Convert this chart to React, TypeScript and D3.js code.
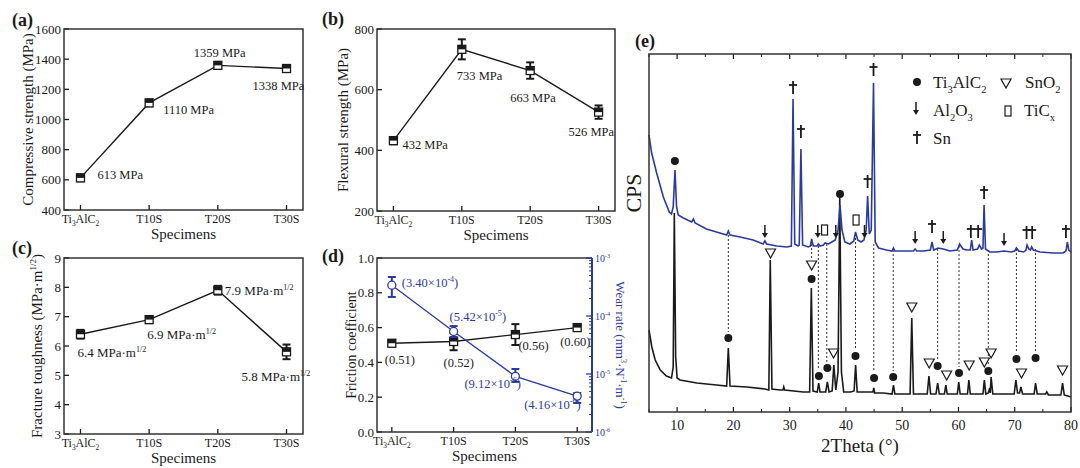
import React from "react";
import * as d3 from "d3";

const FONT = "'Liberation Serif','Times New Roman',Times,serif";
const BLUE = "#2c3a9e";
const INK = "#1a1a1a";

// ---------------- data ----------------
const specimens = ["Ti3AlC2", "T10S", "T20S", "T30S"];

const compressiveTicks = [400, 600, 800, 1000, 1200, 1400, 1600];
const compressive = [613, 1110, 1359, 1338];
const compressiveErr = [22, 22, 20, 20];
const compressiveLabels = ["613 MPa", "1110 MPa", "1359 MPa", "1338 MPa"];

const flexuralTicks = [200, 400, 600, 800];
const flexural = [432, 733, 663, 526];
const flexuralErr = [12, 33, 27, 22];
const flexuralLabels = ["432 MPa", "733 MPa", "663 MPa", "526 MPa"];

const toughnessTicks = [3, 4, 5, 6, 7, 8, 9];
const toughness = [6.4, 6.9, 7.9, 5.8];
const toughnessErr = [0.15, 0.12, 0.15, 0.25];
const toughnessLabels = ["6.4", "6.9", "7.9", "5.8"];

const frictionTicks = [0, 0.2, 0.4, 0.6, 0.8, 1.0];
const friction = [0.51, 0.52, 0.56, 0.6];
const frictionErr = [0.015, 0.05, 0.06, 0.015];
const frictionLabels = ["(0.51)", "(0.52)", "(0.56)", "(0.60)"];

const wearDecades = [-6, -5, -4, -3];
const wear = [3.4e-4, 5.42e-5, 9.12e-6, 4.16e-6];
const wearLow = [2.13e-4, 4.35e-5, 7.3e-6, 3.16e-6];
const wearHigh = [4.7e-4, 6.7e-5, 1.22e-5, 4.7e-6];
const wearMantissa = ["3.40", "5.42", "9.12", "4.16"];
const wearExp = ["-4", "-5", "-6", "-6"];

const xrdTicks = [10, 20, 30, 40, 50, 60, 70, 80];
const xrdMinorTicks = [5, 15, 25, 35, 45, 55, 65, 75];

const xrdBlue: [number, number][] = [
  [5.0, 277], [5.47, 259], [6.36, 239], [7.55, 215], [8.6, 200], [9.0, 198], [9.3, 205], [9.62, 242], [9.9, 205],
  [10.2, 197], [11.1, 194], [12.6, 190], [12.9, 193], [13.2, 189], [15.2, 183], [17.6, 179], [18.8, 177], [19.1, 181],
  [19.4, 177], [21.2, 175], [23.5, 172], [25.3, 168], [25.6, 171], [25.9, 168], [27.7, 166], [29.5, 165], [30.3, 166],
  [30.6, 313], [30.9, 168], [31.5, 166], [31.7, 167], [32.0, 263], [32.3, 167], [33.3, 165], [33.7, 166], [33.9, 173],
  [34.2, 166], [34.9, 166], [35.1, 168], [35.4, 166], [36.0, 167], [36.3, 169], [36.9, 168], [37.5, 170], [38.1, 172],
  [38.6, 182], [38.95, 207], [39.3, 182], [39.8, 170], [40.7, 168], [41.4, 171], [41.7, 180], [42.1, 172], [42.7, 170],
  [43.2, 172], [43.6, 182], [43.85, 216], [44.15, 178], [44.5, 182], [44.9, 329], [45.2, 170], [45.8, 164], [47.2, 162],
  [48.2, 161], [48.45, 164], [48.7, 161], [50.2, 161], [52.0, 161], [52.3, 163], [52.6, 161], [53.8, 161], [55.0, 162],
  [55.3, 170], [55.6, 162], [56.4, 164], [57.3, 163], [58.5, 161], [59.8, 162], [60.2, 168], [60.8, 163], [61.5, 162],
  [62.1, 162], [62.35, 172], [62.6, 162], [63.4, 163], [63.7, 167], [64.1, 163], [64.35, 164], [64.55, 207], [64.8, 163],
  [65.6, 160], [66.8, 160], [68.1, 161], [69.4, 160], [70.0, 161], [70.3, 164], [70.7, 161], [71.6, 160], [72.0, 162],
  [72.2, 167], [72.5, 163], [72.8, 162], [73.0, 165], [73.3, 162], [74.5, 160], [76.9, 159], [78.6, 159], [79.1, 161],
  [79.35, 170], [79.6, 162], [80, 160],
];

const xrdBlack: [number, number][] = [
  [5.0, 82], [5.5, 65], [6.1, 52], [7.0, 42], [8.1, 36], [9.0, 34], [9.3, 45], [9.5, 199], [9.74, 55], [10.0, 34],
  [10.5, 32], [13.5, 29], [17.0, 27], [18.8, 26], [19.1, 64], [19.4, 26], [22.4, 25], [25.6, 23], [26.3, 22],
  [26.55, 152], [26.85, 23], [28.3, 22], [28.8, 22], [28.95, 25], [29.1, 22], [32.4, 20], [33.55, 20], [33.85, 124],
  [34.15, 21], [34.9, 20], [35.15, 29], [35.4, 20], [36.4, 20], [36.7, 30], [37.0, 20], [37.55, 21], [37.85, 47],
  [38.2, 22], [38.6, 40], [38.9, 215], [39.2, 40], [39.6, 20], [40.8, 20], [41.45, 21], [41.72, 47], [42.0, 20],
  [43.1, 20], [44.8, 20], [44.95, 24], [45.1, 19], [46.6, 19], [48.2, 18], [48.45, 27], [48.7, 18], [51.4, 18],
  [51.7, 94], [52.0, 18], [54.45, 18], [54.75, 36], [55.05, 18], [56.0, 18], [56.3, 29], [56.6, 18], [57.5, 18],
  [57.75, 27], [58.0, 18], [59.8, 18], [60.05, 30], [60.3, 18], [61.6, 18], [61.85, 32], [62.1, 18], [64.35, 18],
  [64.6, 32], [64.85, 18], [65.3, 19], [65.55, 24], [65.65, 19], [65.8, 35], [66.1, 18], [69.9, 18], [70.2, 32],
  [70.5, 19], [70.85, 19], [71.1, 25], [71.4, 18], [73.45, 18], [73.7, 29], [74.0, 18], [75.5, 18], [75.7, 20],
  [76.0, 17], [78.2, 17], [78.5, 29], [78.8, 17], [80, 15],
];

const blueTi3AlC2: [number, number][] = [[9.6, 251], [38.95, 218]];
const blueSn: [number, number][] = [
  [30.6, 324], [32.0, 280], [43.85, 230], [44.9, 342], [64.55, 219], [55.3, 185],
  [62.2, 180], [63.5, 180], [72.1, 179], [73.1, 179], [79.1, 180],
];
const blueAl2O3: [number, number][] = [
  [25.6, 180], [35.0, 180], [38.2, 180], [43.3, 180], [52.3, 174], [57.3, 174], [68.1, 172],
];
const blueTiCx: [number, number][] = [[36.2, 182], [41.8, 192]];
const blackTi3AlC2: [number, number][] = [
  [19.1, 74], [33.9, 133], [35.2, 36], [36.7, 44], [41.7, 56], [45.0, 34], [48.4, 35],
  [56.3, 46], [60.1, 39], [65.3, 41], [70.3, 53], [73.7, 54],
];
const blackSnO2: [number, number][] = [
  [26.6, 159], [33.9, 147], [37.8, 59], [51.7, 105], [54.8, 49], [57.9, 37], [61.9, 47],
  [64.6, 50], [65.8, 59], [71.2, 39], [78.5, 42],
];
// [2theta, top intensity, bottom intensity]
const xrdGuides: [number, number, number][] = [
  [19.1, 177, 80], [33.9, 172, 153], [35.1, 166, 42], [36.6, 168, 50], [41.7, 178, 62],
  [44.95, 168, 40], [48.4, 162, 41], [56.3, 163, 52], [60.1, 166, 45], [65.3, 162, 47],
  [70.3, 163, 59], [73.7, 163, 60],
];

// ---------------- helpers ----------------
function Chem({ text, x, y, size, anchor = "start", fill = INK }: any) {
  const toks = text.split(/(_.)/).filter((t: string) => t.length > 0);
  let inSub = false;
  const shift = size * 0.28;
  const kids: any[] = [];
  toks.forEach((t: string, i: number) => {
    if (t.startsWith("_")) {
      kids.push(
        <tspan key={i} fontSize={size * 0.62} dy={inSub ? 0 : shift}>
          {t.slice(1)}
        </tspan>
      );
      inSub = true;
    } else {
      kids.push(
        <tspan key={i} dy={inSub ? -shift : 0}>
          {t}
        </tspan>
      );
      inSub = false;
    }
  });
  return (
    <text x={x} y={y} fontSize={size} textAnchor={anchor} fill={fill}>
      {kids}
    </text>
  );
}

function Sup({ base, exp, x, y, size, anchor = "start", fill = INK, tail = "" }: any) {
  const s = size * 0.62;
  const up = size * 0.38;
  return (
    <text x={x} y={y} fontSize={size} textAnchor={anchor} fill={fill}>
      <tspan>{base}</tspan>
      <tspan fontSize={s} dy={-up}>
        {exp}
      </tspan>
      <tspan dy={up}>{tail}</tspan>
    </text>
  );
}

function specimenName(s: string) {
  return s === "Ti3AlC2" ? "Ti_3AlC_2" : s;
}

function HalfSquare({ x, y, s = 8 }: any) {
  return (
    <g>
      <rect x={x - s / 2} y={y - s / 2} width={s} height={s} fill="#fff" stroke={INK} strokeWidth={1.3} />
      <rect x={x - s / 2} y={y - s / 2} width={s} height={s / 2} fill={INK} />
    </g>
  );
}

function ErrBar({ x, y1, y2, color = INK, w = 8 }: any) {
  return (
    <g stroke={color} strokeWidth={2}>
      <line x1={x} x2={x} y1={y1} y2={y2} />
      <line x1={x - w / 2} x2={x + w / 2} y1={y1} y2={y1} />
      <line x1={x - w / 2} x2={x + w / 2} y1={y2} y2={y2} />
    </g>
  );
}

function CatAxes({ x, y, left, right, top, bottom, ticks, fmt, ylabel, ylabelX, frameRight = true }: any) {
  const cx = (left + right) / 2;
  return (
    <g>
      {ticks.map((t: number) => (
        <g key={t}>
          <line x1={left} x2={left + 5} y1={y(t)} y2={y(t)} stroke={INK} strokeWidth={1.3} />
          <text x={left - 3} y={y(t)} dy="0.35em" textAnchor="end" fontSize={13} fill={INK}>
            {fmt(t)}
          </text>
        </g>
      ))}
      {specimens.map((s) => (
        <g key={s}>
          <line x1={x(s)} x2={x(s)} y1={bottom} y2={bottom - 5} stroke={INK} strokeWidth={1.3} />
          <Chem text={specimenName(s)} x={x(s)} y={bottom + 13} size={12} anchor="middle" />
        </g>
      ))}
      <path
        d={`M${right},${top} L${left},${top} L${left},${bottom} L${right},${bottom}` + (frameRight ? ` Z` : "")}
        fill="none"
        stroke="#333"
        strokeWidth={1.5}
      />
      <text x={cx} y={bottom + 29} textAnchor="middle" fontSize={15} fill={INK}>
        Specimens
      </text>
      <g transform={`translate(${ylabelX},${(top + bottom) / 2}) rotate(-90)`}>{ylabel}</g>
    </g>
  );
}

function Dagger({ x, y }: any) {
  return (
    <g stroke={INK} strokeWidth={1.8}>
      <line x1={x} x2={x} y1={y - 7} y2={y + 6} />
      <line x1={x - 4} x2={x + 4} y1={y - 3} y2={y - 3} />
    </g>
  );
}
function ArrowDown({ x, y }: any) {
  return (
    <g>
      <line x1={x} x2={x} y1={y - 7} y2={y + 2} stroke={INK} strokeWidth={1.5} />
      <path d={`M${x - 3},${y + 1} L${x + 3},${y + 1} L${x},${y + 6} Z`} fill={INK} />
    </g>
  );
}
function TriDown({ x, y }: any) {
  return (
    <path
      d={`M${x - 5},${y - 4} L${x + 5},${y - 4} L${x},${y + 5} Z`}
      fill="#fff"
      stroke={INK}
      strokeWidth={1.2}
    />
  );
}
function Dot({ x, y }: any) {
  return <circle cx={x} cy={y} r={4} fill={INK} />;
}
function Box({ x, y }: any) {
  return <rect x={x - 3} y={y - 5} width={6} height={10} fill="#fff" stroke={INK} strokeWidth={1.2} />;
}

// ---------------- panels ----------------
function PanelA() {
  const L = 64, R = 303, T = 29, B = 210;
  const x = d3.scalePoint<string>().domain(specimens).range([L, R]).padding(0.24);
  const y = d3.scaleLinear().domain([400, 1600]).range([B, T]);
  const line = d3.line<number>().x((_, i) => x(specimens[i])!).y((v) => y(v));
  const lab: [number, number][] = [[17, 1], [14, 11], [-24, -8], [-34, 21]];
  return (
    <g>
      <CatAxes x={x} y={y} left={L} right={R} top={T} bottom={B} ticks={compressiveTicks} fmt={(v: number) => String(v)}
        ylabelX={33}
        ylabel={<text textAnchor="middle" fontSize={15} fill={INK}>Compressive strength (MPa)</text>} />
      <path d={line(compressive)!} fill="none" stroke={INK} strokeWidth={1.4} />
      {compressive.map((v, i) => (
        <g key={i}>
          <ErrBar x={x(specimens[i])} y1={y(v + compressiveErr[i])} y2={y(v - compressiveErr[i])} />
          <HalfSquare x={x(specimens[i])} y={y(v)} />
          <text x={x(specimens[i])! + lab[i][0]} y={y(v) + lab[i][1]} fontSize={12.5} fill={INK}>
            {compressiveLabels[i]}
          </text>
        </g>
      ))}
      <text x={12} y={26} fontSize={18} fontWeight="bold" fill={INK}>(a)</text>
    </g>
  );
}

function PanelB() {
  const L = 377, R = 615, T = 29, B = 211;
  const x = d3.scalePoint<string>().domain(specimens).range([L, R]).padding(0.24);
  const y = d3.scaleLinear().domain([200, 800]).range([B, T]);
  const line = d3.line<number>().x((_, i) => x(specimens[i])!).y((v) => y(v));
  const lab: [number, number][] = [[9, 8], [-5, 31], [-20, 31], [-30, 24]];
  return (
    <g>
      <CatAxes x={x} y={y} left={L} right={R} top={T} bottom={B} ticks={flexuralTicks} fmt={(v: number) => String(v)}
        ylabelX={348}
        ylabel={<text textAnchor="middle" fontSize={15} fill={INK}>Flexural strength (MPa)</text>} />
      <path d={line(flexural)!} fill="none" stroke={INK} strokeWidth={1.4} />
      {flexural.map((v, i) => (
        <g key={i}>
          <ErrBar x={x(specimens[i])} y1={y(v + flexuralErr[i])} y2={y(v - flexuralErr[i])} />
          <HalfSquare x={x(specimens[i])} y={y(v)} />
          <text x={x(specimens[i])! + lab[i][0]} y={y(v) + lab[i][1]} fontSize={12.5} fill={INK}>
            {flexuralLabels[i]}
          </text>
        </g>
      ))}
      <text x={322} y={25} fontSize={18} fontWeight="bold" fill={INK}>(b)</text>
    </g>
  );
}

function PanelC() {
  const L = 64, R = 303, T = 258, B = 434;
  const x = d3.scalePoint<string>().domain(specimens).range([L, R]).padding(0.24);
  const y = d3.scaleLinear().domain([3, 9]).range([B, T]);
  const line = d3.line<number>().x((_, i) => x(specimens[i])!).y((v) => y(v));
  const lab: [number, number][] = [[-3, 23], [-2, 19], [7, 5], [-45, 29]];
  return (
    <g>
      <CatAxes x={x} y={y} left={L} right={R} top={T} bottom={B} ticks={toughnessTicks} fmt={(v: number) => String(v)}
        ylabelX={42}
        ylabel={
          <text textAnchor="middle" fontSize={15} fill={INK}>
            <tspan>Fracture toughness (MPa·m</tspan>
            <tspan fontSize={9} dy={-6}>1/2</tspan>
            <tspan dy={6}>)</tspan>
          </text>
        } />
      <path d={line(toughness)!} fill="none" stroke={INK} strokeWidth={1.4} />
      {toughness.map((v, i) => (
        <g key={i}>
          <ErrBar x={x(specimens[i])} y1={y(v + toughnessErr[i])} y2={y(v - toughnessErr[i])} />
          <HalfSquare x={x(specimens[i])} y={y(v)} />
          <Sup base={`${toughnessLabels[i]} MPa·m`} exp="1/2" x={x(specimens[i])! + lab[i][0]} y={y(v) + lab[i][1]} size={13} />
        </g>
      ))}
      <text x={12} y={254} fontSize={18} fontWeight="bold" fill={INK}>(c)</text>
    </g>
  );
}

function PanelD() {
  const L = 377, R = 592, T = 258, B = 432;
  const x = d3.scalePoint<string>().domain(specimens).range([L, R]).padding(0.24);
  const y = d3.scaleLinear().domain([0, 1]).range([B, T]);
  const yw = d3.scaleLog().domain([1e-6, 1e-3]).range([B, T]);
  const line = d3.line<number>().x((_, i) => x(specimens[i])!).y((v) => y(v));
  const lineW = d3.line<number>().x((_, i) => x(specimens[i])!).y((v) => yw(v));
  const lab: [number, number][] = [[-7, 21], [-10, 25], [3, 15], [-17, 18]];
  const labW: [number, number][] = [[10, 2], [-4, -10], [-51, 12], [-53, 13]];
  const minor: number[] = [];
  for (let e = -6; e < -3; e++) for (let m = 2; m <= 9; m++) minor.push(m * Math.pow(10, e));
  return (
    <g>
      <CatAxes x={x} y={y} left={L} right={R} top={T} bottom={B} ticks={frictionTicks} fmt={d3.format(".1f")}
        frameRight={false}
        ylabelX={356}
        ylabel={<text textAnchor="middle" fontSize={14} fill={INK}>Friction coefficient</text>} />
      <line x1={R} x2={R} y1={T} y2={B} stroke={BLUE} strokeWidth={2} />
      {wearDecades.map((e) => (
        <g key={e}>
          <line x1={R} x2={R - 6} y1={yw(Math.pow(10, e))} y2={yw(Math.pow(10, e))} stroke={BLUE} strokeWidth={1.3} />
          <Sup base="10" exp={`${e}`} x={R + 3} y={yw(Math.pow(10, e)) + 4} size={10} fill={BLUE} />
        </g>
      ))}
      {minor.map((m, i) => (
        <line key={i} x1={R} x2={R - 3} y1={yw(m)} y2={yw(m)} stroke={BLUE} strokeWidth={1} />
      ))}
      <g transform={`translate(616,${(T + B) / 2}) rotate(90)`}>
        <text textAnchor="middle" fontSize={13} fill={BLUE}>
          <tspan>Wear rate (mm</tspan>
          <tspan fontSize={8} dy={-5}>3</tspan>
          <tspan dy={5}>·N</tspan>
          <tspan fontSize={8} dy={-5}>-1</tspan>
          <tspan dy={5}>·m</tspan>
          <tspan fontSize={8} dy={-5}>-1</tspan>
          <tspan dy={5}>)</tspan>
        </text>
      </g>
      <path d={line(friction)!} fill="none" stroke={INK} strokeWidth={1.3} />
      <path d={lineW(wear)!} fill="none" stroke={BLUE} strokeWidth={1.3} />
      {friction.map((v, i) => (
        <g key={"f" + i}>
          <ErrBar x={x(specimens[i])} y1={y(v + frictionErr[i])} y2={y(v - frictionErr[i])} />
          <HalfSquare x={x(specimens[i])} y={y(v)} />
          <text x={x(specimens[i])! + lab[i][0]} y={y(v) + lab[i][1]} fontSize={12.5} fill={INK}>
            {frictionLabels[i]}
          </text>
        </g>
      ))}
      {wear.map((v, i) => (
        <g key={"w" + i}>
          <ErrBar x={x(specimens[i])} y1={yw(wearHigh[i])} y2={yw(wearLow[i])} color={BLUE} />
          <circle cx={x(specimens[i])} cy={yw(v)} r={4} fill="#fff" stroke={BLUE} strokeWidth={1.3} />
          <text x={x(specimens[i])! + labW[i][0]} y={yw(v) + labW[i][1]} fontSize={12.5} fill={BLUE}>
            <tspan>({wearMantissa[i]}×10</tspan>
            <tspan fontSize={8} dy={-5}>{wearExp[i]}</tspan>
            <tspan dy={5}>)</tspan>
          </text>
        </g>
      ))}
      <text x={322} y={262} fontSize={18} fontWeight="bold" fill={INK}>(d)</text>
    </g>
  );
}

function PanelE() {
  const L = 649, R = 1071, T = 54, B = 412;
  const x = d3.scaleLinear().domain([5, 80]).range([L, R]);
  const y = d3.scaleLinear().domain([0, 358]).range([B, T]);
  const line = d3.line<[number, number]>().x((d) => x(d[0])).y((d) => y(d[1]));
  const P = (d: [number, number]) => ({ x: x(d[0]), y: y(d[1]) });
  return (
    <g>
      {xrdGuides.map((g, i) => (
        <line key={i} x1={x(g[0])} x2={x(g[0])} y1={y(g[1])} y2={y(g[2])} stroke={INK} strokeWidth={0.9} strokeDasharray="2,2" />
      ))}
      <path d={line(xrdBlack)!} fill="none" stroke={INK} strokeWidth={1.6} />
      <path d={line(xrdBlue)!} fill="none" stroke={BLUE} strokeWidth={1.6} />
      {blueTi3AlC2.map((d, i) => <Dot key={"bt" + i} {...P(d)} />)}
      {blueSn.map((d, i) => <Dagger key={"bs" + i} {...P(d)} />)}
      {blueAl2O3.map((d, i) => <ArrowDown key={"ba" + i} {...P(d)} />)}
      {blueTiCx.map((d, i) => <Box key={"bx" + i} {...P(d)} />)}
      {blackTi3AlC2.map((d, i) => <Dot key={"kt" + i} {...P(d)} />)}
      {blackSnO2.map((d, i) => <TriDown key={"ks" + i} {...P(d)} />)}
      {xrdTicks.map((t) => (
        <g key={t}>
          <line x1={x(t)} x2={x(t)} y1={B} y2={B - 5} stroke={INK} strokeWidth={1.2} />
          <line x1={x(t)} x2={x(t)} y1={T} y2={T + 5} stroke={INK} strokeWidth={1.2} />
          <text x={x(t)} y={B + 18} textAnchor="middle" fontSize={14} fill={INK}>{t}</text>
        </g>
      ))}
      {xrdMinorTicks.map((t) => (
        <g key={t}>
          <line x1={x(t)} x2={x(t)} y1={B} y2={B - 3} stroke={INK} strokeWidth={1} />
          <line x1={x(t)} x2={x(t)} y1={T} y2={T + 3} stroke={INK} strokeWidth={1} />
        </g>
      ))}
      <rect x={L} y={T} width={R - L} height={B - T} fill="none" stroke="#333" strokeWidth={1.5} />
      <text x={(L + R) / 2} y={452} textAnchor="middle" fontSize={19} fill={INK}>2Theta (°)</text>
      <g transform={`translate(641,${(T + B) / 2 - 40}) rotate(-90)`}>
        <text textAnchor="middle" fontSize={22} fill={INK}>CPS</text>
      </g>
      {/* legend */}
      <Dot x={917} y={82} />
      <Chem text="Ti_3AlC_2" x={933} y={88} size={17} />
      <TriDown x={1006} y={83} />
      <Chem text="SnO_2" x={1025} y={88} size={17} />
      <ArrowDown x={916} y={109} />
      <Chem text="Al_2O_3" x={933} y={116} size={17} />
      <Box x={1008} y={111} />
      <Chem text="TiC_x" x={1024} y={116} size={17} />
      <Dagger x={917} y={138} />
      <text x={933} y={144} fontSize={17} fill={INK}>Sn</text>
      <text x={635} y={47} fontSize={18} fontWeight="bold" fill={INK}>(e)</text>
    </g>
  );
}

export default function App() {
  return (
    <svg
      width={1080}
      height={468}
      viewBox="0 0 1080 468"
      style={{ position: "fixed", left: 0, top: 0, background: "#fff", fontFamily: FONT }}
      fontFamily={FONT}
    >
      <rect width={1080} height={468} fill="#fff" />
      <PanelA />
      <PanelB />
      <PanelC />
      <PanelD />
      <PanelE />
    </svg>
  );
}
